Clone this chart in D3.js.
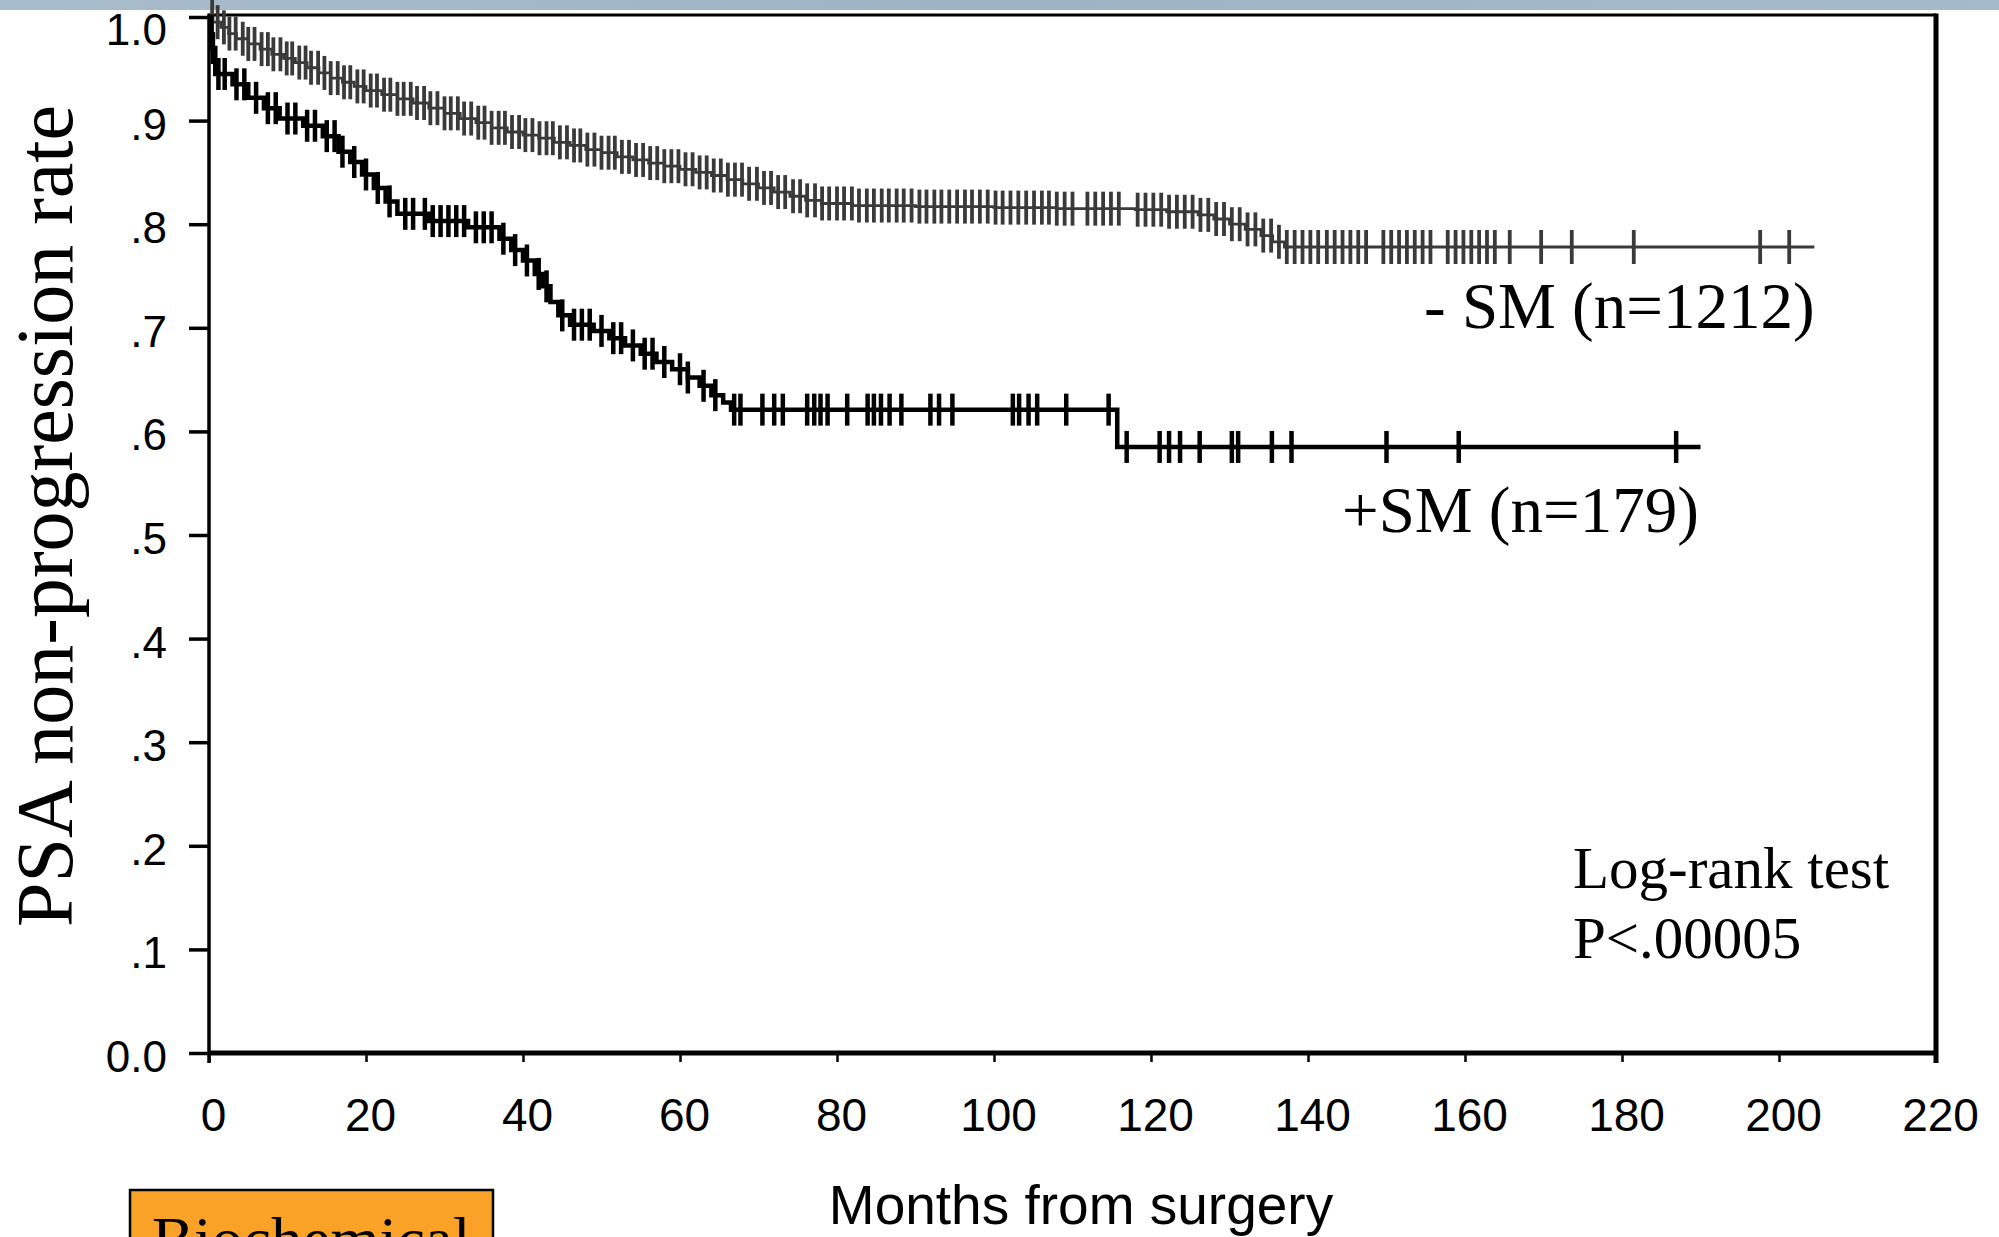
<!DOCTYPE html>
<html>
<head>
<meta charset="utf-8">
<title>PSA non-progression rate by surgical margin</title>
<script src="https://cdn.jsdelivr.net/npm/d3@7"></script>
<style>
    html, body { margin: 0; padding: 0; background: #fff; }
    svg { display: block; }
    .axis text { font-family: "Liberation Sans", Arial, sans-serif; fill: #000; }
    .axis line { stroke: #000; }
    .serif { font-family: "Liberation Serif", "Times New Roman", serif; fill: #000; }
    .sans { font-family: "Liberation Sans", Arial, sans-serif; fill: #000; }
</style>
</head>
<body>
<svg id="graph" width="1999" height="1237"></svg>
<script>
//Axis ticks
var xTickValues = [0, 20, 40, 60, 80, 100, 120, 140, 160, 180, 200, 220];
var yTickValues = [0, 0.1, 0.2, 0.3, 0.4, 0.5, 0.6, 0.7, 0.8, 0.9, 1.0];
var yTickLabels = ['0.0', '.1', '.2', '.3', '.4', '.5', '.6', '.7', '.8', '.9', '1.0'];

//Series labels
var seriesLabels = ['- SM (n=1212)', '+SM (n=179)'];
var testLabels = ['Log-rank test', 'P<.00005'];

//- SM (negative margin): step times (months) and rates
var negStepMonths = [0, 0.5, 1.5, 2.5, 3.5, 5, 6.5, 8, 9.5, 11, 12.5, 14, 15.5, 17, 18.5,
    20, 22, 24, 26, 28, 30, 32, 34, 36, 38, 40, 42, 44, 46, 48, 50, 52, 54, 56, 58,
    60, 62, 64, 66, 68, 70, 72, 74, 76, 78, 82, 90, 100, 108, 118, 122, 126, 128,
    130, 132, 134, 135.5, 137, 204.5];
var negStepRates = [1.0, 0.995, 0.99, 0.984, 0.979, 0.974, 0.969, 0.964, 0.96, 0.956,
    0.951, 0.946, 0.941, 0.937, 0.933, 0.929, 0.925, 0.921, 0.917, 0.912, 0.907, 0.902,
    0.898, 0.893, 0.889, 0.886, 0.883, 0.879, 0.876, 0.872, 0.869, 0.865, 0.862, 0.859,
    0.856, 0.853, 0.85, 0.847, 0.843, 0.839, 0.835, 0.831, 0.827, 0.823, 0.82, 0.818,
    0.817, 0.816, 0.815, 0.814, 0.812, 0.809, 0.805, 0.8, 0.795, 0.789, 0.783, 0.778,
    0.778];

//- SM censored observations (months)
var negCensorMonths = [0.4, 1.1, 1.9, 2.6, 3.4, 4.3, 5.0, 5.8, 6.7, 7.5, 8.2, 9.1, 9.9,
    10.6, 11.5, 12.3, 13.0, 13.9, 14.7, 15.5, 16.4, 17.2, 18.0, 18.9, 19.7, 20.6, 21.4,
    22.3, 23.1, 24.0, 24.8, 25.7, 26.5, 27.4, 28.2, 29.1, 30.0, 30.8, 31.7, 32.5, 33.4,
    34.3, 35.1, 36.0, 36.9, 37.7, 38.6, 39.5, 40.3, 41.2, 42.1, 43.0, 43.8, 44.7, 45.6,
    46.5, 47.3, 48.2, 49.1, 50.0, 50.9, 51.7, 52.6, 53.5, 54.4, 55.3, 56.2, 57.1, 58.0,
    58.9, 59.8, 60.7, 61.6, 62.5, 63.4, 64.3, 65.2, 66.1, 67.0, 67.9, 68.8, 69.8, 70.7,
    71.6, 72.5, 73.4, 74.4, 75.3, 76.2, 77.2, 78.1, 79.0, 80.0, 80.9, 81.9, 82.8, 83.8,
    84.7, 85.7, 86.6, 87.6, 88.5, 89.5, 90.5, 91.4, 92.4, 93.3, 94.3, 95.3, 96.3, 97.2,
    98.2, 99.2, 100.2, 101.1, 102.1, 103.1, 104.1, 105.1, 106.1, 107.0, 108.0, 109.0,
    110.0, 111.9, 112.9, 113.9, 114.9, 115.9, 118.3, 119.3, 120.3, 121.3, 122.3, 123.3,
    124.3, 125.3, 126.3, 127.3, 128.3, 129.3, 130.3, 131.3, 132.3, 133.3, 134.3, 135.3,
    136.3, 137.3, 138.3, 139.3, 140.3, 141.3, 142.4, 143.4, 144.4, 145.4, 146.4, 147.4,
    149.6, 150.6, 151.6, 152.6, 153.6, 154.6, 155.6, 157.8, 158.8, 159.8, 160.8, 161.8,
    162.8, 163.8, 165.7, 169.7, 173.6, 181.5, 197.6, 201.3];

//+SM (positive margin): step times (months) and rates
var posStepMonths = [0, 0.3, 0.8, 3, 5, 7, 9, 12, 14.5, 16.5, 18, 19.5, 21, 22.5, 24, 28,
    33, 37, 38.5, 40, 41.5, 42.5, 43.5, 44.5, 46, 49, 51, 53, 55, 57, 59, 61, 62.5, 64,
    65.5, 66.5, 115.7, 190];
var posStepRates = [1.0, 0.97, 0.945, 0.935, 0.922, 0.912, 0.902, 0.895, 0.885, 0.87,
    0.86, 0.848, 0.835, 0.822, 0.81, 0.803, 0.797, 0.786, 0.775, 0.765, 0.752, 0.74,
    0.725, 0.712, 0.703, 0.697, 0.69, 0.683, 0.675, 0.667, 0.66, 0.652, 0.644, 0.635,
    0.628, 0.621, 0.585, 0.585];

//+SM censored observations (months)
var posCensorMonths = [0.5, 1.2, 2, 3.5, 4.5, 6, 7.5, 8.5, 10, 11, 12.5, 13.5, 15, 16,
    17, 18.5, 20, 21.5, 23, 25, 26, 27.5, 28.5, 29.5, 30.5, 31.5, 32.5, 34, 35, 36, 37.5,
    39, 40.5, 42, 43, 45, 46.5, 47.5, 48.5, 50, 51.5, 52.5, 54, 55.5, 56.5, 58, 60, 61,
    63, 64.5, 66.9, 67.7, 70.5, 72, 73.1, 76.2, 77.1, 77.9, 78.8, 81.3, 83.9, 84.7, 85.6,
    86.7, 88.2, 91.9, 93, 94.7, 102.4, 103.2, 104.4, 105.5, 109.2, 114.6, 116.9, 121.1,
    122.3, 123.7, 126.2, 130.3, 131.1, 135.4, 137.9, 150, 159.2, 186.9];

(function(){
    'use strict';

    /*******************************************************************
     *                            VARIABLES                            *
     *******************************************************************/

    var svg = d3.select('#graph');

    //Plot frame, in page pixels
    var frame = { left: 209, right: 1936, top: 15, bottom: 1053 };

    var xScale = d3.scaleLinear()
        .domain([0, 220])
        .range([frame.left, frame.right]);

    var yScale = d3.scaleLinear()
        .domain([0, 1])
        .range([frame.bottom, 17]);

    /*******************************************************************
     *                             DRAWING                             *
     *******************************************************************/

    drawBanner();
    drawAxes();
    drawFrame();
    drawCurve(negStepMonths, negStepRates, negCensorMonths,
        { line: 2.8, tick: 3.8, half: 17, color: '#3a3a3a' });
    drawCurve(posStepMonths, posStepRates, posCensorMonths,
        { line: 4.5, tick: 4.5, half: 16, color: '#000' });
    drawLabels();
    drawBadge();

    /**
     * Grey-blue strip across the top of the slide
     */
    function drawBanner() {
        var grad = svg.append('defs').append('linearGradient')
            .attr('id', 'banner')
            .attr('x1', 0).attr('x2', 1).attr('y1', 0).attr('y2', 0);
        grad.append('stop').attr('offset', '0%').attr('stop-color', '#a9bccb');
        grad.append('stop').attr('offset', '50%').attr('stop-color', '#9fb3c4');
        grad.append('stop').attr('offset', '100%').attr('stop-color', '#a7bac9');

        svg.append('rect')
            .attr('x', 0).attr('y', 0)
            .attr('width', 1999).attr('height', 10)
            .attr('fill', 'url(#banner)');
    }

    /**
     * Creates x-axis and y-axis (ticks + labels only, frame drawn apart)
     */
    function drawAxes() {
        var x = d3.axisBottom(xScale)
            .tickValues(xTickValues)
            .tickSize(9)
            .tickPadding(36)
            .tickFormat(d3.format('d'));

        var gx = svg.append('g')
            .attr('class', 'x axis')
            .attr('transform', 'translate(0,' + frame.bottom + ')')
            .call(x);
        gx.select('.domain').remove();
        gx.selectAll('line').attr('stroke-width', 2.5);
        gx.selectAll('text')
            .style('font-size', '46px')
            .attr('transform', 'translate(4,0)');

        var y = d3.axisLeft(yScale)
            .tickValues(yTickValues)
            .tickSize(20)
            .tickPadding(22)
            .tickFormat(function(d, i) { return yTickLabels[i]; });

        var gy = svg.append('g')
            .attr('class', 'y axis')
            .attr('transform', 'translate(' + frame.left + ',0)')
            .call(y);
        gy.select('.domain').remove();
        gy.selectAll('line').attr('stroke-width', 3.5);
        gy.selectAll('text')
            .style('font-size', '44px')
            .attr('dy', function(d) { return d === 1 ? '0.62em' : '0.42em'; });
    }

    /**
     * Box around the plot, heavier on the bottom and right
     */
    function drawFrame() {
        var sides = [
            { x1: frame.left, y1: frame.top, x2: frame.right, y2: frame.top, w: 3 },
            { x1: frame.right, y1: frame.top - 1.5, x2: frame.right, y2: frame.bottom + 10, w: 5 },
            { x1: frame.left, y1: frame.bottom, x2: frame.right, y2: frame.bottom, w: 5 },
            { x1: frame.left, y1: frame.top - 1.5, x2: frame.left, y2: frame.bottom + 10, w: 3.5 }
        ];

        svg.append('g').selectAll('line')
            .data(sides)
            .enter()
            .append('line')
            .attr('x1', function(d) { return d.x1; })
            .attr('y1', function(d) { return d.y1; })
            .attr('x2', function(d) { return d.x2; })
            .attr('y2', function(d) { return d.y2; })
            .attr('stroke', '#000')
            .attr('stroke-width', function(d) { return d.w; });
    }

    /**
     * Kaplan-Meier step line plus a vertical tick at every censored case
     */
    function drawCurve(months, rates, censored, style) {
        var steps = months.map(function(m, i) { return [m, rates[i]]; });

        var line = d3.line()
            .x(function(d) { return xScale(d[0]); })
            .y(function(d) { return yScale(d[1]); })
            .curve(d3.curveStepAfter);

        var g = svg.append('g').attr('class', 'curve');

        g.append('path')
            .datum(steps)
            .attr('d', line)
            .attr('fill', 'none')
            .attr('stroke', style.color)
            .attr('stroke-width', style.line);

        g.selectAll('line')
            .data(censored)
            .enter()
            .append('line')
            .attr('x1', function(d) { return xScale(d); })
            .attr('x2', function(d) { return xScale(d); })
            .attr('y1', function(d) { return yScale(rateAt(months, rates, d)) - style.half; })
            .attr('y2', function(d) { return yScale(rateAt(months, rates, d)) + style.half; })
            .attr('stroke', style.color)
            .attr('stroke-width', style.tick);
    }

    //Value of the step function at time t
    function rateAt(months, rates, t) {
        var i = d3.bisectRight(months, t) - 1;
        return rates[Math.max(0, i)];
    }

    /**
     * Axis titles, series names and the test result
     */
    function drawLabels() {
        svg.append('text')
            .attr('class', 'serif')
            .attr('transform', 'translate(72,516) rotate(-90)')
            .attr('text-anchor', 'middle')
            .style('font-size', '80px')
            .text('PSA non-progression rate');

        svg.append('text')
            .attr('class', 'sans')
            .attr('x', 1081)
            .attr('y', 1224)
            .attr('text-anchor', 'middle')
            .style('font-size', '55px')
            .text('Months from surgery');

        svg.append('text')
            .attr('class', 'serif')
            .attr('x', 1424)
            .attr('y', 328)
            .style('font-size', '65px')
            .text(seriesLabels[0]);

        svg.append('text')
            .attr('class', 'serif')
            .attr('x', 1342)
            .attr('y', 532)
            .style('font-size', '65px')
            .text(seriesLabels[1]);

        svg.selectAll('text.test')
            .data(testLabels)
            .enter()
            .append('text')
            .attr('class', 'serif test')
            .attr('x', 1573)
            .attr('y', function(d, i) { return 888 + i * 70; })
            .style('font-size', '59px')
            .text(function(d) { return d; });
    }

    /**
     * Orange caption box, cut off by the bottom of the slide
     */
    function drawBadge() {
        svg.append('rect')
            .attr('x', 130)
            .attr('y', 1190)
            .attr('width', 363)
            .attr('height', 80)
            .attr('fill', '#f9a227')
            .attr('stroke', '#000')
            .attr('stroke-width', 2.5);

        svg.append('text')
            .attr('class', 'serif')
            .attr('x', 152)
            .attr('y', 1261)
            .style('font-size', '63px')
            .text('Biochemical');
    }
})();
</script>
</body>
</html>
